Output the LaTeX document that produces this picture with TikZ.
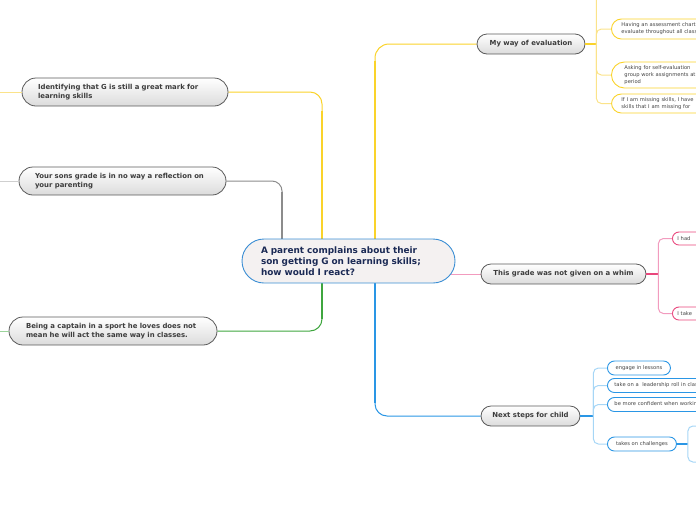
\documentclass[tikz,border=0pt]{standalone}
\usepackage{fontspec}
\setmainfont{DejaVu Sans}
\usetikzlibrary{calc,backgrounds}
\definecolor{yel}{HTML}{FAD32A}
\definecolor{yell}{HTML}{FBE38A}
\definecolor{gry}{HTML}{8C8C8C}
\definecolor{gryl}{HTML}{CFCFCF}
\definecolor{grn}{HTML}{3FA63F}
\definecolor{grnl}{HTML}{9BD49B}
\definecolor{blu}{HTML}{2A96E5}
\definecolor{blul}{HTML}{A6D6F6}
\definecolor{pnk}{HTML}{E9467C}
\definecolor{pnkl}{HTML}{F29BBE}
\definecolor{cbord}{HTML}{3B8ED4}
\definecolor{cfill}{HTML}{F4F1F1}
\definecolor{navy}{HTML}{1B2A55}
\definecolor{mtxt}{HTML}{3C3C3C}
\definecolor{mbord}{HTML}{5A5A5A}
\definecolor{stxt}{HTML}{444444}
\tikzset{
  centralbox/.style={draw=cbord, line width=0.9pt, fill=cfill, rounded corners=22pt,
    minimum height=44pt, inner xsep=19pt, inner ysep=0pt, text width=175pt, align=left,
    text=navy, font=\bfseries\fontsize{8.9}{11}\selectfont},
  mainbox/.style={draw=mbord, line width=0.8pt, top color=white, bottom color=black!14,
    rounded corners=10pt, minimum height=20pt, inner ysep=0pt, inner xsep=0pt,
    text=mtxt, font=\bfseries\fontsize{6.9}{8.2}\selectfont},
  leftbox/.style={mainbox, rounded corners=14pt, minimum height=28pt, align=left,
    font=\bfseries\fontsize{6.9}{8.4}\selectfont},
  subbox/.style={draw=#1, line width=0.9pt, fill=white, anchor=west, inner ysep=0pt,
    inner xsep=0pt, text=stxt, font=\fontsize{5.2}{7}\selectfont, align=left},
  thick1/.style={line width=2.6pt},
  thin1/.style={line width=1pt},
}
\begin{document}
\begin{tikzpicture}[x=1pt,y=-1pt]
\useasboundingbox (0,0) rectangle (696,520);
\clip (0,0) rectangle (696,520);

% nodes
\node[centralbox] (central) at (348.5,261) {A parent complains about their\\son getting G on learning skills;\\how would I react?};

\node[leftbox, text width=174pt, inner xsep=16pt] (ident) at (125,92) {Identifying that G is still a great mark for\\learning skills};
\node[leftbox, text width=175pt, inner xsep=16pt] (sons) at (122.5,181) {Your sons grade is in no way a reflection on\\your parenting};
\node[leftbox, text width=174pt, inner xsep=17pt] (captain) at (113,331) {Being a captain in a sport he loves does not\\mean he will act the same way in classes.};

\node[mainbox, minimum width=108pt] (myway) at (531,44) {My way of evaluation};
\node[mainbox, minimum width=165pt] (grade) at (563.5,274) {This grade was not given on a whim};
\node[mainbox, minimum width=99pt] (next) at (530.5,416) {Next steps for child};

% evaluation children
\node[subbox=yel, rounded corners=10pt, minimum height=20pt, text width=150pt, inner xsep=10pt] (having) at (611,29) {Having an assessment chart to\\evaluate throughout all classes};
\node[subbox=yel, rounded corners=13pt, minimum height=26pt, text width=150pt, inner xsep=13pt] (asking) at (611,75) {Asking for self-evaluation\\group work assignments at\\period};
\node[subbox=yel, rounded corners=10pt, minimum height=19pt, text width=150pt, inner xsep=10pt] (missing) at (611,103.5) {If I am missing skills, I have\\skills that I am missing for};

% grade children
\node[subbox=pnk, rounded corners=6.5pt, minimum height=13pt, text width=60pt, inner xsep=5pt] (ihad) at (672,238.5) {I had};
\node[subbox=pnk, rounded corners=6.5pt, minimum height=13pt, text width=60pt, inner xsep=5pt] (itake) at (672,313.5) {I take};

% next-step children
\node[subbox=blu, rounded corners=7pt, minimum height=14pt, minimum width=63pt, inner xsep=7pt] (engage) at (607,368) {engage in lessons};
\node[subbox=blu, rounded corners=7pt, minimum height=14pt, text width=150pt, inner xsep=7pt] (lead) at (607,385.5) {take on a\ \ leadership roll in class};
\node[subbox=blu, rounded corners=7pt, minimum height=14pt, text width=150pt, inner xsep=7pt] (conf) at (607,404.5) {be more confident when working};
\node[subbox=blu, rounded corners=7pt, minimum height=14pt, minimum width=69pt, inner xsep=7pt] (chall) at (607,444) {takes on challenges};

% off-canvas ends
\coordinate (lend1) at (-5,92);
\coordinate (lend2) at (-5,181);
\coordinate (lend3) at (-5,331);
\coordinate (mwtop) at (720,-30);
\coordinate (ch1) at (710,426);
\coordinate (ch2) at (710,462);

\begin{scope}[on background layer]
  \draw[yel, thin1, rounded corners=12pt] ($(central.center)+(-26.5,0)$) |- (ident.east);
  \draw[yel, thick1] ($(central.center)+(-26.5,0)$) -- ++(0,-150);
  \draw[gry, thin1, rounded corners=10pt] ($(central.center)+(-66.5,0)$) |- (sons.east);
  \draw[gry, thick1] ($(central.center)+(-66.5,0)$) -- ++(0,-69);
  \draw[grn, thin1, rounded corners=12pt] ($(central.center)+(-26.5,0)$) |- (captain.east);
  \draw[grn, line width=2pt] ($(central.center)+(-26.5,0)$) -- ++(0,58);
  \draw[yel, thin1, rounded corners=14pt] ($(central.center)+(26.5,0)$) |- (myway.west);
  \draw[yel, line width=2pt] ($(central.center)+(26.5,0)$) -- ++(0,-200);
  \draw[blu, thin1, rounded corners=12pt] ($(central.center)+(26.5,0)$) |- (next.west);
  \draw[blu, line width=2pt] ($(central.center)+(26.5,0)$) -- ++(0,142);
  \draw[pnkl, thin1] (grade.west -| central.center) -- (grade.west);
\end{scope}

\draw[yell, thin1] (ident.west) -- (lend1);
\draw[gryl, thin1] (sons.west) -- (lend2);
\draw[grnl, thin1] (captain.west) -- (lend3);

\draw[yel, line width=1.8pt] (myway.east) -- ++(11,0);
\draw[yell, thin1, rounded corners=5pt] (myway.east) ++(11,0) |- (mwtop);
\draw[yell, thin1, rounded corners=5pt] (myway.east) ++(11,0) |- (having.west);
\draw[yell, thin1, rounded corners=5pt] (myway.east) ++(11,0) |- (asking.west);
\draw[yell, thin1, rounded corners=5pt] (myway.east) ++(11,0) |- (missing.west);

\draw[pnk, line width=1.5pt] (grade.east) -- ++(12,0);
\draw[pnkl, thin1, rounded corners=5pt] (grade.east) ++(12,0) |- (ihad.west);
\draw[pnkl, thin1, rounded corners=5pt] (grade.east) ++(12,0) |- (itake.west);

\draw[blu, line width=1.5pt] (next.east) -- ++(13,0);
\draw[blul, thin1, rounded corners=5pt] (next.east) ++(13,0) |- (engage.west);
\draw[blul, thin1, rounded corners=5pt] (next.east) ++(13,0) |- (lead.west);
\draw[blul, thin1, rounded corners=5pt] (next.east) ++(13,0) |- (conf.west);
\draw[blul, thin1, rounded corners=5pt] (next.east) ++(13,0) |- (chall.west);

\draw[blu, line width=1.2pt] (chall.east) -- ++(11,0);
\draw[blul, thin1, rounded corners=5pt] (chall.east) ++(11,0) |- (ch1);
\draw[blul, thin1, rounded corners=5pt] (chall.east) ++(11,0) |- (ch2);
\end{tikzpicture}
\end{document}
